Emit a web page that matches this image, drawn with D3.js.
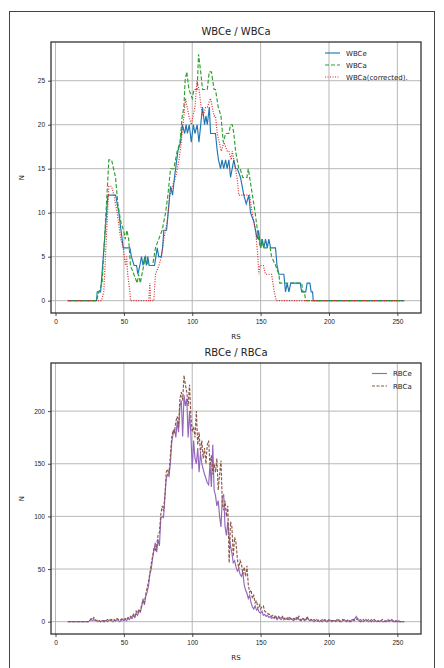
<!DOCTYPE html>
<html lang="en">
<head>
  <meta charset="UTF-8" />
  <title>WBC / RBC</title>
  <style>
    body { margin: 0; background: #fff; }
    svg { display: block; font-family: "DejaVu Sans", sans-serif; }
    .grid line { stroke: #b0b0b0; stroke-width: 0.9px; }
    .axis path { display: none; }
    .axis line { stroke: #222; stroke-width: 0.8px; }
    .axis text { fill: #222; font-size: 6.5px; }
    .spine { fill: none; stroke: #333; stroke-width: 1.3px; }
    .series { fill: none; stroke-width: 1.15px; }
  </style>
</head>
<body>
<script src="https://cdn.jsdelivr.net/npm/d3@7"></script>
<script>
  var w = 444;
  var h = 668;

  // ---- top chart (RS, N) points ----
  var wbce = [[9,0],[30,0],[30.5,1],[33,1],[38.3,12],[44,12],[46.3,10],[49.5,6],[54.4,6],[55.5,5],[57.5,4],[59.3,4],[60.2,3],[61.7,4],[62.9,5],[64,4],[65.3,5],[66.5,4],[67.5,5],[68.5,4],[72.4,4],[74.4,6],[75.5,5],[77.3,5],[78.3,6],[79.2,8],[81.2,8],[82.4,10],[84.1,13],[85.6,12],[87,14],[89.5,17],[91.4,18],[92.7,20],[94.5,19],[95.5,20],[96.5,19],[97.8,20],[99.3,18],[100.8,20],[102,19],[103.6,20],[104.9,18],[106.2,20],[107.5,22],[109,20],[110,21],[111,20],[112.5,22],[113.4,19],[117,19],[118.3,17],[119.2,16],[120.7,15],[121.8,16],[123,15],[124.4,16],[125.5,15],[126.8,16],[128,14],[130.4,16],[131.7,15],[133,15],[135.3,14],[137.7,12],[139.5,11],[141.4,12],[142.6,10],[145,9],[147.5,7],[148.5,8],[150,6],[151.2,7],[152.4,6],[153.6,7],[154.9,6],[156,7],[157.3,6],[160.9,6],[162,4],[163.4,3],[167,3],[168.2,1],[169.4,2],[170.7,1],[172,2],[179,2],[180,1],[183,1],[184,2],[186,2],[187,1],[188,1],[188.5,0],[255,0]];

  var wbca = [[9,0],[30,0],[31.7,1],[34.1,2],[39,16],[41,16],[43.9,14],[45.6,11],[47.7,9],[49.8,8],[51,7],[52.2,8],[53.5,7],[54.8,4],[57.3,3],[59.7,2],[60.8,3],[62,2],[63.2,3],[65.8,5],[68,4],[71,4],[73.1,6],[75.5,7],[78,8],[80.5,10],[82.2,12],[84.1,15],[86.5,15],[89,17],[91,18],[92.7,21],[93.9,22],[94.8,25],[96,26],[97.6,24],[100,23],[101.3,24],[103.6,24],[104.6,28],[106.2,26],[107.5,24],[109,24],[111,24],[112.4,26],[114,26],[116,24],[117,24],[119,22],[121,21],[122.7,18],[124.4,19],[126.8,19],[128,20],[129.3,20],[130.4,19],[131.7,17],[134,15],[135,15],[137,14],[140,14],[141,15],[142,14],[146,10],[148.5,7],[150,6],[151,7],[152,6],[157,6],[158,5],[161,4],[163.4,3],[164,2],[180,2],[181,1],[182,1],[183,0],[255,0]];

  var wbcaCorr = [[9,0],[33.6,0],[35.3,1],[39,13],[41,13],[42.7,12],[45.1,10],[47.7,7],[49.5,6],[51.2,4],[52,5],[52.8,3],[54.4,1],[54.9,0],[68.2,0],[69,2],[69.5,0],[71.9,0],[73.1,3],[75.6,4],[77.5,5],[79.2,7],[81.7,9],[83.6,12],[85.4,13],[87.8,14],[90.3,16],[92,18],[93.9,21],[95.1,23],[96.3,22],[97.6,21],[99.3,20],[100.6,21],[102,22],[103.5,25],[105,24],[106.5,22],[108,21],[109.8,22],[111,22],[113.4,23],[114.6,22],[116,21],[117,21],[118.3,19],[119.8,18],[121.2,17],[123.2,18],[125.6,17],[126.8,17],[128.5,16],[129.3,17],[130.4,16],[132.8,14],[134,12],[136.6,12],[140,12],[142,12],[143.8,10],[146.3,8],[148,5],[148.7,3],[149.5,4],[152,4],[153.5,3],[158,3],[160,1],[161.5,0],[255,0]];

  // ---- bottom chart: one value per RS, RS = 9 .. 255 ----
  var rbcRS = d3.range(9, 256);
  var rbce = [0,0,0,0,0,0,0,0,0,0,0,0,0,0,0,0,
    1,2,1,2,1,1,0,1,0,1,0,1,1,0,1,2,1,0,1,1,2,1,0,1,2,
    1,2,1,3,2,4,3,6,4,8,6,10,9,14,22,16,24,28,34,45,50,60,68,75,66,78,72,98,100,99,
    118,136,140,138,150,170,178,183,175,190,180,205,210,176,215,205,212,175,200,178,
    145,172,155,150,165,142,160,150,145,140,136,132,130,150,128,168,125,120,110,115,
    100,90,118,121,90,82,95,80,72,65,56,58,52,48,50,45,43,47,35,30,
    27,22,25,18,14,12,15,11,12,9,8,10,6,7,5,6,4,5,3,4,
    3,5,2,4,3,2,4,3,2,3,4,2,3,2,1,3,2,4,2,1,
    2,3,1,2,4,2,1,2,1,0,1,2,1,0,1,2,1,1,0,1,
    2,1,0,1,1,0,1,2,1,0,1,2,1,0,1,0,1,2,1,3,
    5,2,1,2,1,0,1,2,1,0,1,2,1,0,1,0,1,0,1,0,
    0,1,0,1,0,1,2,1,0,1,0,1,0,0,0,0];
  var rbca = [0,0,0,0,0,0,0,0,0,0,0,0,0,0,0,0,
    1,3,2,4,2,1,2,1,0,1,1,0,1,2,1,1,2,1,2,1,3,2,1,2,3,
    2,3,2,4,3,5,4,7,5,10,8,12,10,16,20,18,26,32,38,46,55,62,70,68,72,82,85,102,110,105,
    120,142,145,140,158,175,182,180,190,195,185,212,218,210,234,225,218,205,225,195,
    180,185,175,200,168,180,160,172,155,165,150,168,172,148,158,140,150,142,155,125,
    140,153,112,106,115,100,110,56,95,90,62,80,75,60,50,58,55,45,52,43,
    53,35,28,30,22,25,18,20,13,16,12,14,15,10,9,8,7,7,5,6,
    4,6,3,5,4,3,5,2,4,3,2,4,3,2,3,2,4,2,5,2,
    1,3,2,1,5,2,1,2,1,2,1,0,1,2,1,0,1,2,1,0,
    1,2,1,1,0,1,2,1,0,1,2,1,0,1,2,1,0,1,2,1,
    2,3,1,0,1,2,1,0,1,2,1,0,1,2,1,0,1,0,1,2,
    1,0,1,2,1,2,1,0,1,0,1,0,0,0,0,0];

  var xTicks = [0, 50, 100, 150, 200, 250];
  var yTicksTop = [0, 5, 10, 15, 20, 25];
  var yTicksBottom = [0, 50, 100, 150, 200];

  var svg = d3.select("body").append("svg")
    .attr("width", w)
    .attr("height", h);

  // figure border
  svg.append("rect")
    .attr("x", 9.5).attr("y", 11.5)
    .attr("width", 425).attr("height", 680)
    .attr("fill", "none")
    .attr("stroke", "#444")
    .attr("stroke-width", 1);

  // matplotlib-like 5% padding
  function padded(lo, hi) {
    var m = (hi - lo) * 0.05;
    return [lo - m, hi + m];
  }

  function drawPanel(p) {
    var xScale = d3.scaleLinear().domain(padded(9, 255)).range([p.left, p.right]);
    var yScale = d3.scaleLinear().domain(padded(0, p.ymax)).range([p.bottom, p.top]);

    var g = svg.append("g");

    // grid
    var grid = g.append("g").attr("class", "grid");
    grid.selectAll(".gx").data(xTicks).enter().append("line")
      .attr("x1", function(d) { return xScale(d); })
      .attr("x2", function(d) { return xScale(d); })
      .attr("y1", p.top).attr("y2", p.bottom);
    grid.selectAll(".gy").data(p.yTicks).enter().append("line")
      .attr("x1", p.left).attr("x2", p.right)
      .attr("y1", function(d) { return yScale(d); })
      .attr("y2", function(d) { return yScale(d); });

    // series
    p.series.forEach(function(s) {
      var line = d3.line()
        .x(function(d) { return xScale(d[0]); })
        .y(function(d) { return yScale(d[1]); });
      g.append("path")
        .datum(s.data)
        .attr("class", "series")
        .attr("stroke", s.color)
        .attr("stroke-dasharray", s.dash)
        .attr("d", line);
    });

    // spines
    g.append("rect")
      .attr("class", "spine")
      .attr("x", p.left).attr("y", p.top)
      .attr("width", p.right - p.left).attr("height", p.bottom - p.top);

    var xAxis = d3.axisBottom(xScale).tickValues(xTicks).tickSize(3).tickPadding(3);
    var yAxis = d3.axisLeft(yScale).tickValues(p.yTicks).tickSize(3).tickPadding(3);

    g.append("g")
      .attr("class", "axis")
      .attr("transform", "translate(0," + p.bottom + ")")
      .call(xAxis);
    g.append("g")
      .attr("class", "axis")
      .attr("transform", "translate(" + p.left + ",0)")
      .call(yAxis);

    // title + labels
    g.append("text")
      .attr("x", (p.left + p.right) / 2).attr("y", p.top - 7)
      .attr("text-anchor", "middle")
      .attr("font-size", "10px")
      .attr("fill", "#222")
      .text(p.title);
    g.append("text")
      .attr("x", (p.left + p.right) / 2).attr("y", p.bottom + 26)
      .attr("text-anchor", "middle")
      .attr("font-size", "7px")
      .attr("fill", "#222")
      .text("RS");
    g.append("text")
      .attr("transform", "translate(24," + (p.top + p.bottom) / 2 + ") rotate(-90)")
      .attr("text-anchor", "middle")
      .attr("font-size", "7px")
      .attr("fill", "#222")
      .text("N");

    // legend
    var leg = g.append("g");
    p.series.forEach(function(s, i) {
      var y = p.legY + i * p.legStep;
      leg.append("line")
        .attr("x1", p.legX).attr("x2", p.legX + 15)
        .attr("y1", y).attr("y2", y)
        .attr("stroke", s.color)
        .attr("stroke-width", 1.15)
        .attr("stroke-dasharray", s.dash);
      leg.append("text")
        .attr("x", p.legX + 21).attr("y", y + 2.5)
        .attr("font-size", "7px")
        .attr("fill", "#222")
        .text(s.name);
    });
  }

  drawPanel({
    title: "WBCe / WBCa",
    left: 51, right: 421, top: 42, bottom: 313,
    ymax: 28, yTicks: yTicksTop,
    legX: 325, legY: 53, legStep: 12,
    series: [
      { name: "WBCe", data: wbce, color: "#1f77b4", dash: null },
      { name: "WBCa", data: wbca, color: "#2ca02c", dash: "4,2" },
      { name: "WBCa(corrected).", data: wbcaCorr, color: "#d62728", dash: "1,1.5" }
    ]
  });

  drawPanel({
    title: "RBCe / RBCa",
    left: 51, right: 421, top: 363, bottom: 634,
    ymax: 234, yTicks: yTicksBottom,
    legX: 372, legY: 373.5, legStep: 12.5,
    series: [
      { name: "RBCe", data: rbcRS.map(function(r, i) { return [r, rbce[i]]; }), color: "#9467bd", dash: null },
      { name: "RBCa", data: rbcRS.map(function(r, i) { return [r, rbca[i]]; }), color: "#8c564b", dash: "3,1.5" }
    ]
  });
</script>
</body>
</html>
